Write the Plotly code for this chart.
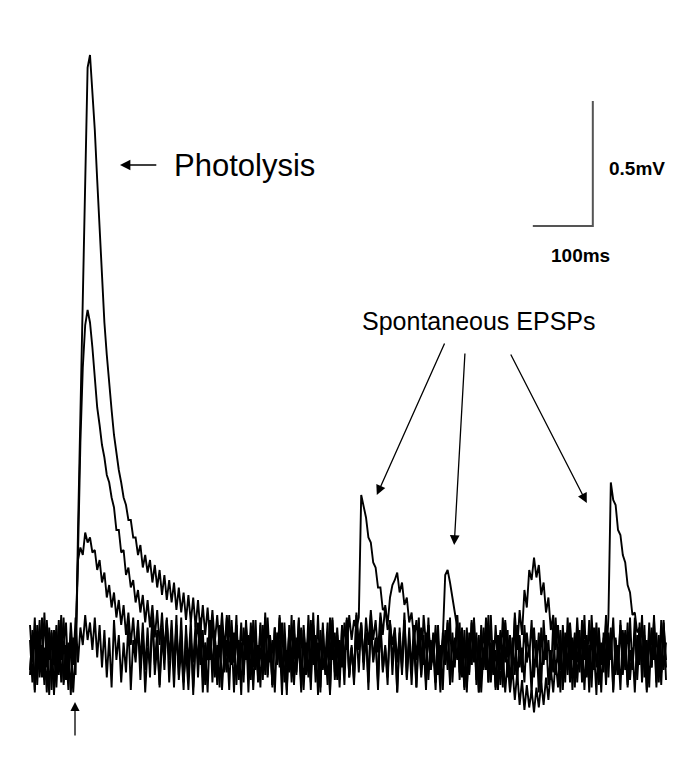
import plotly.graph_objects as go

# sampling (ms)
sample_interval_ms = 4
n_samples = 266
time_ms = [i * sample_interval_ms for i in range(n_samples)]

# membrane potential deviations from baseline (µV)
trace_big_uV = [
    60, -110, 90, -40, 140, -90, 30, -150, 110, -60,
    20, -130, 80, -20, 150, -100, 50, -160, 70, -80,
    500, 1000, 1500, 1950, 2350, 2400, 2250, 2100, 1900, 1700,
    1540, 1330, 1200, 1080, 980, 880, 800, 740, 690, 630,
    600, 540, 540, 470, 470, 400, 440, 350, 400, 330,
    380, 290, 360, 270, 340, 240, 320, 220, 300, 210,
    290, 180, 270, 170, 250, 140, 240, 130, 230, 110,
    220, 90, 200, 80, 190, 60, 180, 50, 160, 30,
    170, 20, 150, -10, 140, -30, 120, -40, 130, -60,
    110, -70, 130, -50, 90, -90, 120, -60, 150, -80,
    80, -120, 110, -40, 160, -90, 60, -140, 100, -30,
    140, -70, 50, -150, 120, -20, 90, -110, 170, -60,
    30, -130, 110, -80, 60, -160, 140, -40, 80, -100,
    120, -50, 150, -90, 40, -120, 100, -70, 130, -30,
    90, -110, 160, -20, 70, -140, 120, -60, 30, -120,
    140, -80, 100, -150, 60, -40, 170, -90, 110, -70,
    40, -130, 130, -20, 80, -110, 150, -60, 20, -140,
    120, -90, 60, -30, 140, -120, 90, -50, 160, -100,
    30, -140, 110, -70, 130, -20, 70, -150, 100, -60,
    150, -110, 50, -80, 120, -40, 90, -130, 140, -10,
    80, -90, 170, 20, 180, 80, 260, 190, 340, 300,
    390, 310, 360, 240, 290, 170, 230, 100, 160, 20,
    120, -60, 90, -110, 150, -40, 60, -130, 110, -70,
    140, -20, 80, -150, 100, -60, 130, -100, 50, -30,
    160, -90, 110, -140, 70, -50, 120, -80, 40, -120,
    150, -60, 90, -30, 130, -110, 60, -150, 100, -40,
    140, -70, 80, -120, 110, -50,
]
trace_medium_uV = [
    -80, 100, -140, 50, -30, 150, -100, 70, -160, 90,
    -40, 120, -70, 160, -120, 40, -90, 130, -20, 60,
    400, 850, 1150, 1320, 1380, 1330, 1230, 1110, 990, 920,
    840, 790, 720, 690, 630, 590, 500, 500, 410, 420,
    320, 350, 270, 300, 210, 260, 170, 240, 130, 220,
    110, 200, 70, 180, 40, 170, 10, 150, -20, 140,
    -50, 120, -80, 100, -110, 90, -40, 140, -130, 60,
    -20, 150, -90, 40, -150, 110, -60, 80, -120, 30,
    130, -70, 60, -140, 100, -30, 160, -100, 50, -80,
    120, -150, 80, -40, 140, -110, 30, -60, 150, -90,
    70, -130, 110, -20, 60, -160, 130, -50, 90, -110,
    40, -80, 150, -120, 100, -30, 70, -140, 120, -60,
    160, -90, 50, -20, 130, -150, 90, -70, 110, -40,
    60, -120, 140, -80, 30, -100, 170, 40, 130, -60,
    90, -140, 120, -30, 60, -110, 150, -70, 40, -90,
    130, -20, 80, -150, 110, -60, 140, -100, 50, -40,
    120, -130, 70, -80, 160, 40, 120, -50, 90, -110,
    60, -30, 70, 320, 340, 290, 230, 180, 110, 40,
    -80, 100, -130, 50, -40, 150, -100, 80, -150, 30,
    -60, 120, -110, 60, -140, 30, -120, 10, -150, -20,
    -150, -50, -180, -70, -200, -100, -220, -120, -210, -140,
    -230, -130, -210, -110, -200, -90, -180, -50, -150, -20,
    -130, 40, -100, 90, -60, 120, -140, 50, -30, 100,
    -110, 60, -50, 140, -90, 20, -160, 110, -40, 70,
    -120, 90, -20, 150, -80, 40, -140, 100, -60, 130,
    -100, 30, -150, 80, -40, 160, -90, 60, -130, 110,
    -20, 90, -110, 140, -60, 50,
]
trace_small_uV = [
    120, -30, 150, -120, 70, -80, 170, -50, 90, -140,
    100, -60, 140, -110, 40, 130, -90, 60, -150, 20,
    380, 430, 400, 490, 450, 470, 410, 420, 340, 380,
    290, 330, 230, 280, 190, 250, 150, 220, 120, 200,
    80, 170, 40, 150, 10, 140, -30, 130, -60, 110,
    -90, 150, -40, 100, -130, 60, -20, 140, -110, 80,
    -50, 160, -100, 30, -140, 120, -70, 90, -160, 50,
    130, -40, 100, -120, 70, -20, 150, -90, 40, -130,
    110, -60, 160, -30, 80, -150, 120, -80, 50, -110,
    140, -20, 90, -140, 60, -70, 130, -100, 170, -50,
    80, -120, 110, -30, 150, -90, 40, -160, 120, -60,
    90, -10, 140, -130, 70, -80, 160, -40, 100, -110,
    50, -150, 130, -60, 80, -20, 150, -100, 60, -130,
    110, -40, 140, -90, 30, -70, 160, 20, 120, -30,
    150, 40, 180, 60, 140, 10, 170, 80, 200, 120,
    230, 280, 300, 330, 250, 290, 200, 230, 130, 170,
    60, 140, 20, 110, -40, 90, -100, 60, -30, 120,
    -80, 40, -140, 100, -60, 150, -110, 70, -20, 130,
    -90, 60, -150, 90, -40, 140, -120, 30, -70, 110,
    -20, 160, -100, 50, -130, 80, -60, 150, -30, 100,
    -140, 70, -80, 120, -50, 30, -110, 90, -10, 140,
    -90, 60, -150, 110, -40, 80, -120, 20, -70, 150,
    -30, 100, -140, 60, -80, 130, -20, 90, -110, 50,
    -60, 160, -90, 40, -130, 110, -50, 70, -150, 90,
    -40, 150, 690, 620, 600, 500, 480, 400, 370, 280,
    250, 160, 170, 90, 110, -20, 80, -90, 130, -50,
    100, -130, 60, -70, 140, -100,
]
trace_none_uV = [
    -60, 80, -150, 120, -90, 40, -120, 140, -20, 100,
    -160, 60, -80, 130, -110, 20, -140, 90, -40, 150,
    -30, 110, 40, 160, 60, 130, 20, 150, -10, 120,
    -50, 100, -90, 70, -130, 140, -20, 80, -110, 50,
    -70, 130, -140, 60, -30, 120, -100, 90, -150, 30,
    -40, 160, -80, 40, -120, 110, -60, 140, -10, 70,
    -130, 90, -50, 150, -100, 20, -140, 60, -30, 130,
    -90, 100, -150, 50, -20, 140, -110, 80, -60, 120,
    -140, 30, -70, 160, -40, 90, -120, 60, -160, 110,
    -20, 80, -100, 140, -60, 40, -130, 120, -80, 150,
    -30, 60, -150, 90, -50, 130, -110, 20, -70, 160,
    -120, 70, -10, 110, -140, 50, -90, 140, -40, 80,
    -160, 100, -60, 30, -120, 150, -20, 90, -100, 60,
    -50, 130, 20, 160, 60, 140, 100, 150, 640, 600,
    550, 470, 450, 370, 350, 270, 270, 180, 190, 100,
    130, 40, 110, -30, 90, -80, 140, -50, 60, -120,
    100, -20, 150, -90, 40, -140, 120, -60, 80, -110,
    30, -150, 90, -40, 130, -100, 60, -20, 160, -70,
    110, -130, 50, -80, 140, -30, 90, -150, 120, -50,
    70, -110, 160, -60, 20, -140, 100, -10, 130, -90,
    60, -40, 150, -120, 80, -70, 120, -30, 40, -160,
    110, -50, 90, -130, 140, -20, 60, -100, 130, -80,
    30, -150, 120, -40, 100, -110, 70, -60, 150, -20,
    80, -140, 50, -90, 160, -30, 110, -120, 40, -70,
    130, -10, 90, -150, 60, -80, 140, -40, 100, -130,
    20, -60, 150, -100, 70, -30, 120, -140, 90, -50,
    160, -110, 40, -70, 130, -20,
]
traces = [trace_big_uV, trace_medium_uV, trace_small_uV, trace_none_uV]

# scale bar (data units)
scalebar_time_ms = 100
scalebar_volt_uV = 500          # 0.5 mV
scalebar_t0_ms = 838
scalebar_v0_uV = 1716

# labels
photolysis_label = "Photolysis"
spont_label = "Spontaneous EPSPs"
volt_label = "0.5mV"
time_label = "100ms"

FONT = "Liberation Sans, Arial, sans-serif"

fig = go.Figure()
for tr in traces:
    fig.add_trace(go.Scatter(
        x=time_ms[:len(tr)], y=tr, mode="lines",
        line=dict(color="black", width=1.9),
        hoverinfo="skip", showlegend=False,
    ))

# scale bar
fig.add_trace(go.Scatter(
    x=[scalebar_t0_ms, scalebar_t0_ms + scalebar_time_ms, scalebar_t0_ms + scalebar_time_ms],
    y=[scalebar_v0_uV, scalebar_v0_uV, scalebar_v0_uV + scalebar_volt_uV],
    mode="lines", line=dict(color="#555555", width=2),
    hoverinfo="skip", showlegend=False,
))

annotations = [
    # Photolysis label + arrow
    dict(x=237, y=1960, text=photolysis_label, showarrow=False, xanchor="left",
         yanchor="middle", font=dict(family=FONT, size=31, color="black")),
    dict(x=150, y=1960, ax=213, ay=1960, axref="x", ayref="y", text="",
         showarrow=True, arrowhead=2, arrowsize=1.3, arrowwidth=1.6, arrowcolor="black"),
    # scale bar labels
    dict(x=962, y=1948, text="<b>" + volt_label + "</b>", showarrow=False, xanchor="left",
         yanchor="middle", font=dict(family=FONT, size=19, color="black")),
    dict(x=918, y=1600, text="<b>" + time_label + "</b>", showarrow=False, xanchor="center",
         yanchor="middle", font=dict(family=FONT, size=19, color="black")),
    # Spontaneous EPSPs label + arrows
    dict(x=748, y=1336, text=spont_label, showarrow=False, xanchor="center",
         yanchor="middle", font=dict(family=FONT, size=25, color="black")),
    dict(x=578, y=640, ax=692, ay=1252, axref="x", ayref="y", text="",
         showarrow=True, arrowhead=2, arrowsize=1.5, arrowwidth=1.3, arrowcolor="black"),
    dict(x=707, y=440, ax=725, ay=1212, axref="x", ayref="y", text="",
         showarrow=True, arrowhead=2, arrowsize=1.5, arrowwidth=1.3, arrowcolor="black"),
    dict(x=928, y=608, ax=800, ay=1208, axref="x", ayref="y", text="",
         showarrow=True, arrowhead=2, arrowsize=1.5, arrowwidth=1.3, arrowcolor="black"),
    # stimulus marker
    dict(x=75, y=-188, ax=75, ay=-328, axref="x", ayref="y", text="",
         showarrow=True, arrowhead=2, arrowsize=1.4, arrowwidth=1.3, arrowcolor="black"),
]

fig.update_layout(
    width=683, height=766,
    margin=dict(l=0, r=0, t=0, b=0),
    paper_bgcolor="white", plot_bgcolor="white",
    xaxis=dict(range=[-50, 1088.3], visible=False, fixedrange=True),
    yaxis=dict(range=[-444, 2620], visible=False, fixedrange=True),
    annotations=annotations,
    showlegend=False,
)

fig.write_html("out.html", config={"displayModeBar": False})
